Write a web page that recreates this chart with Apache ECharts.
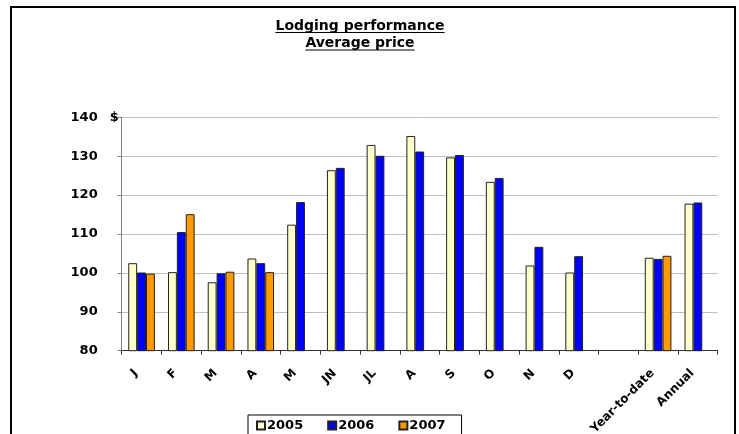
<!DOCTYPE html>
<html><head><meta charset="utf-8">
<script src="https://cdn.jsdelivr.net/npm/echarts@6/dist/echarts.min.js"></script>
<style>html,body{margin:0;padding:0;background:#fff}#c{width:739px;height:434px}</style>
</head><body><div id="c"></div>
<script>
const categories = ['J','F','M','A','M','JN','JL','A','S','O','N','D','','Year-to-date','Annual'];
const s2005 = [102.5,100.2,97.6,103.7,112.4,126.4,132.9,135.2,129.7,123.4,101.9,100.1,null,103.9,117.8];
const s2006 = [100.1,110.5,99.9,102.5,118.2,127.0,130.1,131.2,130.3,124.4,106.7,104.3,null,103.6,118.1];
const s2007 = [99.8,115.1,100.3,100.2,null,null,null,null,null,null,null,null,null,104.4,null];
const seriesNames = ['2005','2006','2007'];
const titleLines = ['Lodging performance','Average price'];
const yMin = 80, yMax = 140, yStep = 10;

const FONT = '"DejaVu Sans", Verdana, sans-serif';
const chart = echarts.init(document.getElementById('c'));

const TFONT = 'bold 14px ' + FONT;
const cv = document.createElement('canvas').getContext('2d');
cv.font = TFONT;
const titleCx = 360;
const textY = [26, 43.5];
const ulY = [32.5, 50];
const titleGraphics = [];
titleLines.forEach((t, i) => {
  const w = cv.measureText(t).width;
  titleGraphics.push({type:'text', style:{text:t, x:titleCx, y:textY[i], align:'center', verticalAlign:'middle', font:TFONT, fill:'#000'}, silent:true});
  titleGraphics.push({type:'line', shape:{x1:titleCx - w/2, y1:ulY[i], x2:titleCx + w/2, y2:ulY[i]}, style:{stroke:'#000', lineWidth:1}, silent:true});
});

const barStyle = (c) => ({color:c, borderColor:'#222', borderWidth:1});

chart.setOption({
  animation:false,
  backgroundColor:'#fff',
  graphic:[
    {type:'rect', shape:{x:11, y:7, width:724, height:450}, style:{fill:'none', stroke:'#000', lineWidth:2}, silent:true},
    ...titleGraphics
  ],
  legend:{
    data: seriesNames,
    left: 248, top: 415,
    borderColor:'#000', borderWidth:1,
    padding:[4,16,10,8],
    itemWidth:8, itemHeight:8, itemGap:24,
    icon:'rect',
    textStyle:{fontFamily:FONT, fontWeight:'bold', fontSize:13, color:'#000', padding:[0,0,0,-3]}
  },
  grid:{left:121.7, right:21.3, top:117.3, bottom:83.3, containLabel:false, outerBoundsMode:'none'},
  xAxis:{
    type:'category', data:categories,
    axisLine:{lineStyle:{color:'#333', width:1}},
    axisTick:{show:true, alignWithLabel:false, length:4, lineStyle:{color:'#333'}},
    axisLabel:{interval:0, rotate:45, margin:15, padding:[0,8,0,0], fontFamily:FONT, fontWeight:'bold', fontSize:12, color:'#000'}
  },
  yAxis:{
    type:'value', min:yMin, max:yMax, interval:yStep,
    name:'$', nameLocation:'end', nameGap:0,
    nameTextStyle:{fontFamily:FONT, fontWeight:'bold', fontSize:13, color:'#000', align:'right', verticalAlign:'middle', padding:[0,3,0,0]},
    axisLine:{show:true, lineStyle:{color:'#808080', width:1}},
    axisTick:{show:true, length:4, lineStyle:{color:'#808080'}},
    axisLabel:{margin:24, fontFamily:FONT, fontWeight:'bold', fontSize:13, color:'#000'},
    splitLine:{lineStyle:{color:'#c0c0c0', width:1}}
  },
  series:[
    {name:seriesNames[0], type:'bar', data:s2005, itemStyle:barStyle('#FFFFCC'), barGap:'0%', barCategoryGap:'33%'},
    {name:seriesNames[1], type:'bar', data:s2006, itemStyle:barStyle('#0000FF'), barGap:'0%', barCategoryGap:'33%'},
    {name:seriesNames[2], type:'bar', data:s2007, itemStyle:barStyle('#FF9900'), barGap:'0%', barCategoryGap:'33%'}
  ]
});
</script></body></html>
